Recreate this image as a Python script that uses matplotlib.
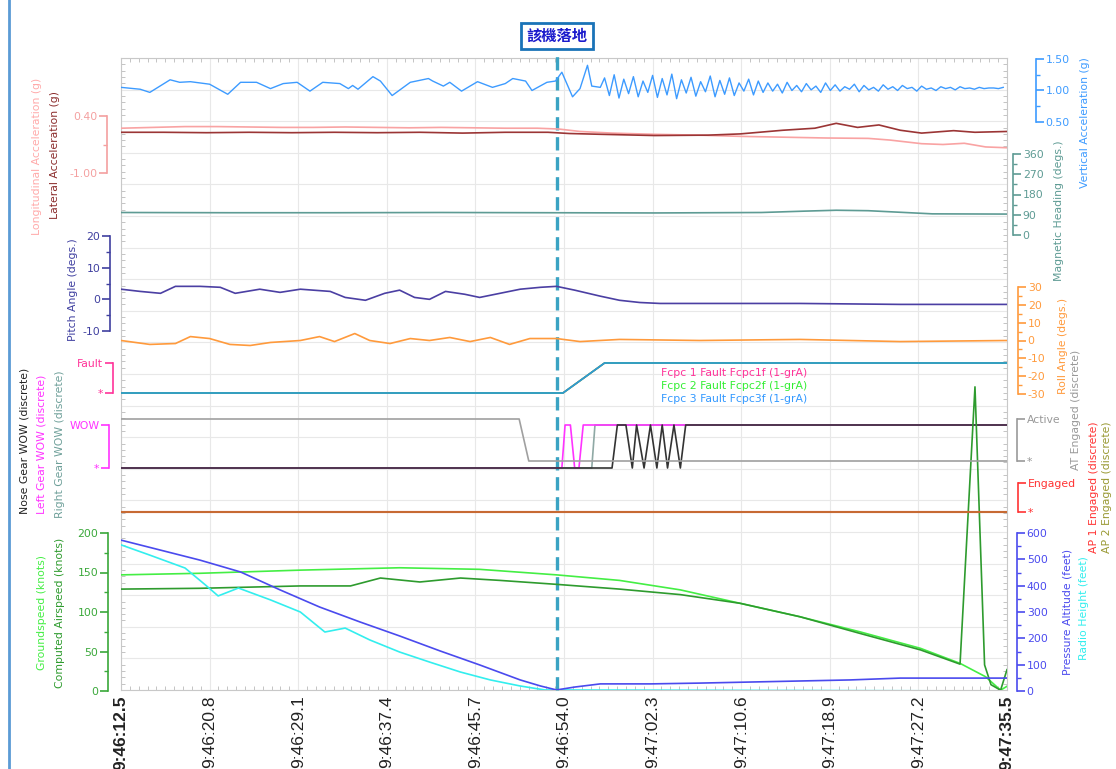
import numpy as np
import matplotlib.pyplot as plt
from matplotlib.ticker import MultipleLocator, FixedLocator

# ---- time axis (seconds after 9:46:12.5) ----
tick_pos = [0, 8.3, 16.6, 24.9, 33.2, 41.5, 49.8, 58.1, 66.4, 74.7, 83.0]
tick_labels = ['9:46:12.5', '9:46:20.8', '9:46:29.1', '9:46:37.4', '9:46:45.7', '9:46:54.0',
               '9:47:02.3', '9:47:10.6', '9:47:18.9', '9:47:27.2', '9:47:35.5']
t_land = 40.85

# vertical acceleration (g)
vacc_t = [0, 1.8, 2.7, 4.6, 5.5, 6.5, 8.3, 10.0, 11.2, 12.7, 14.0, 15.2, 16.5, 17.7, 18.9, 20.5,
          21.3, 21.7, 22.2, 23.6, 24.3, 25.4, 27.1, 28.8, 29.2, 30.2, 30.8, 31.9, 33.4, 34.8,
          36.0, 36.7, 37.9, 38.5, 39.9, 40.7, 41.3, 42.3, 43.0, 43.7, 44.1, 44.9]
vacc = [1.05, 1.02, 0.97, 1.17, 1.13, 1.14, 1.10, 0.94, 1.13, 1.13, 1.03, 1.11, 1.13, 0.99, 1.13,
        1.11, 1.03, 1.08, 1.02, 1.22, 1.15, 0.92, 1.13, 1.19, 1.15, 1.07, 1.13, 0.99, 1.14, 1.05,
        1.11, 1.19, 1.15, 1.00, 1.13, 1.15, 1.29, 0.90, 1.03, 1.40, 1.07, 1.05]
# rollout buffeting, sampled every 0.45 s from 45.3 s
vacc_roll = [1.20, 0.92, 1.25, 0.88, 1.18, 0.95, 1.22, 0.90, 1.15, 0.97, 1.24, 0.89, 1.19, 0.93,
             1.26, 0.87, 1.17, 0.96, 1.21, 0.91, 1.14, 0.98, 1.23, 0.90, 1.16, 0.94, 1.20, 0.92,
             1.12, 0.99, 1.18, 0.93, 1.15,
             0.97, 1.12, 0.99, 1.10, 0.96, 1.13, 1.00, 1.08, 0.98, 1.11, 1.01, 1.07, 0.97, 1.12,
             1.00, 1.09, 0.99, 1.06, 1.02, 1.10, 0.98, 1.08, 1.01, 1.05, 0.99, 1.09, 1.02, 1.06,
             1.00, 1.08, 1.03, 1.05, 0.99, 1.07, 1.02, 1.04, 1.00, 1.06, 1.03, 1.05, 1.01, 1.06,
             1.03, 1.04, 1.02, 1.05, 1.03, 1.04, 1.04, 1.03, 1.05]

# longitudinal / lateral acceleration (g)
lon_t = [0, 3, 6, 9, 12, 15, 18, 21, 24, 27, 30, 33, 36, 39, 41, 43, 46, 50, 54, 58, 62, 66, 70,
         72, 75, 77, 79, 81, 83]
lon_acc = [0.10, 0.12, 0.14, 0.14, 0.13, 0.12, 0.12, 0.13, 0.12, 0.11, 0.12, 0.11, 0.10, 0.10,
           0.08, 0.02, -0.02, -0.05, -0.07, -0.10, -0.12, -0.14, -0.15, -0.19, -0.28, -0.30,
           -0.27, -0.36, -0.38]
lat_t = [0, 4, 8, 12, 16, 20, 24, 28, 32, 36, 40, 42, 45, 50, 55, 58, 62, 65, 67, 69, 71, 73, 75,
         78, 80, 83]
lat_acc = [0.00, 0.00, -0.01, 0.00, -0.01, 0.00, -0.01, 0.00, -0.02, 0.00, 0.00, -0.03, -0.05,
           -0.08, -0.07, -0.04, 0.05, 0.10, 0.22, 0.12, 0.18, 0.05, -0.02, 0.04, 0.00, 0.02]

# magnetic heading (deg)
hdg_t = [0, 10, 20, 30, 40, 50, 55, 60, 64, 67, 70, 73, 76, 83]
hdg = [100, 99, 99, 100, 99, 98, 99, 100, 106, 110, 108, 101, 94, 93]

# pitch angle (deg)
pitch_t = [0, 1.8, 3.7, 5.1, 7.4, 9.3, 10.7, 13.0, 14.9, 16.8, 19.6, 21.0, 22.9, 24.7, 26.1,
           27.5, 28.9, 30.4, 32.2, 33.6, 35.5, 37.4, 39.3, 40.8, 42.5, 44.9, 46.7, 48.6, 50.5,
           54.2, 63.6, 73.0, 83.0]
pitch = [3.2, 2.5, 1.9, 4.1, 4.1, 3.8, 1.9, 3.2, 2.2, 3.2, 2.5, 0.6, -0.3, 1.9, 2.9, 0.6, 0.0,
         2.5, 1.6, 0.6, 1.9, 3.2, 3.8, 4.1, 2.9, 1.0, -0.3, -1.0, -1.3, -1.3, -1.3, -1.6, -1.6]

# roll angle (deg)
roll_t = [0, 2.7, 5.1, 6.5, 8.3, 10.2, 12.1, 14.0, 16.8, 18.6, 20.0, 21.9, 23.3, 25.2, 27.1,
          28.9, 30.8, 32.7, 34.6, 36.4, 38.3, 40.8, 43.0, 46.7, 54.2, 63.6, 73.0, 83.0]
roll = [0, -2.2, -1.7, 2.2, 1.1, -2.2, -2.8, -1.1, 0, 2.2, -0.6, 3.9, 0, -1.7, 1.1, 0, 1.7, -0.6,
        1.7, -2.2, 1.1, 1.1, -0.6, 0.6, 0, 0.6, -0.6, 0]

# discretes
fcpc_t = [0, 41.4, 45.3, 83]
fcpc1 = [0, 0, 1, 1]
fcpc2 = [0, 0, 1, 1]
fcpc3 = [0, 0, 1, 1]
nose_t = [0, 46.0, 46.5, 47.3, 47.9, 48.3, 49.0, 49.6, 50.2, 50.7, 51.2, 51.8, 52.4, 52.9, 83]
nose_wow = [0, 0, 1, 1, 0, 1, 0, 1, 0, 1, 0, 1, 0, 1, 1]
left_t = [0, 41.3, 41.6, 42.1, 42.5, 42.9, 43.3, 83]
left_wow = [0, 0, 1, 1, 0, 0, 1, 1]
right_t = [0, 44.1, 44.4, 83]
right_wow = [0, 0, 1, 1]
at_t = [0, 37.3, 38.2, 83]
at_eng = [1, 1, 0, 0]
ap_t = [0, 83]
ap1_eng = [0, 0]
ap2_eng = [0, 0]

# ground speed / computed airspeed (knots)
gs_t = [0, 7.4, 16.8, 26.1, 33.6, 40.8, 46.7, 52.4, 58.0, 63.6, 69.2, 74.9, 78.6, 81.0, 82.4, 83.0]
gs = [147, 149, 153, 156, 154, 147, 140, 128, 111, 94, 75, 54, 35, 18, 1, 6]
cas_t = [0, 7.4, 16.8, 21.5, 24.3, 28.0, 31.8, 35.5, 40.8, 46.7, 52.4, 58.0, 63.6, 69.2, 74.9,
         78.6, 80.0, 80.9, 81.5, 82.4, 83.0]
cas = [129, 130, 133, 133, 143, 138, 143, 140, 135, 129, 122, 111, 94, 73, 52, 34, 385, 33, 8, 1,
       27]

# pressure altitude / radio height (feet)
alt_t = [0, 3.7, 7.4, 11.2, 14.9, 18.6, 22.4, 26.1, 29.9, 33.6, 37.4, 39.3, 40.8, 42.5, 44.9,
         49.6, 54.2, 58.9, 63.6, 68.3, 73.0, 77.7, 83.0]
alt = [573, 535, 497, 452, 384, 319, 262, 209, 152, 99, 42, 19, 4, 15, 27, 27, 30, 34, 38, 42, 49,
       49, 49]
rh_t = [0, 2.7, 6.0, 7.9, 9.1, 11.0, 14.0, 16.8, 19.1, 21.0, 23.3, 26.1, 28.9, 31.8, 34.6, 37.4,
        39.7, 83.0]
rh = [555, 516, 467, 403, 361, 391, 346, 300, 224, 239, 194, 148, 110, 72, 42, 19, 4, 0]

# ---- layout ----
W, H = 1116, 769
fig = plt.figure(figsize=(W / 100, H / 100), dpi=100)
X0, X1, Y0, Y1 = 121, 1007, 58, 690


def rect(top, bottom):
    return [X0 / W, 1 - bottom / H, (X1 - X0) / W, (bottom - top) / H]


main = fig.add_axes(rect(Y0, Y1))
main.set_xlim(0, 83)
main.set_ylim(0, 1)
main.set_xticks(tick_pos)
main.set_xticklabels(tick_labels, rotation=90, fontsize=12.5, family='Liberation Sans',
                     color='#222222')
for i in (0, -1):
    main.get_xticklabels()[i].set_fontweight('bold')
main.xaxis.set_minor_locator(MultipleLocator(0.83))
main.yaxis.set_major_locator(MultipleLocator(0.05))
main.yaxis.set_minor_locator(MultipleLocator(0.01))
main.grid(True, which='major', color='#e8e8e8', lw=0.8)
main.tick_params(which='both', direction='in', color='#c4c4c4', top=True, right=True,
                 labelleft=False, pad=4)
main.tick_params(which='major', length=0)
main.tick_params(which='minor', length=3, width=0.7)
for s in main.spines.values():
    s.set_color('#c8c8c8')


def band(top, bottom, lo, hi, side, offset_px, color, major, labels, minor=None):
    ax = fig.add_axes(rect(top, bottom))
    ax.set_facecolor('none')
    ax.set_xlim(0, 83)
    ax.set_ylim(lo, hi)
    for s in ax.spines.values():
        s.set_visible(False)
    sp = ax.spines[side]
    sp.set_visible(True)
    sp.set_position(('outward', offset_px * 0.72))
    sp.set_color(color)
    sp.set_linewidth(1.2)
    ax.yaxis.set_ticks_position(side)
    ax.yaxis.set_major_locator(FixedLocator(major))
    ax.set_yticklabels(labels)
    if minor is not None:
        ax.yaxis.set_minor_locator(FixedLocator(minor))
    ax.tick_params(axis='y', which='major', colors=color, labelsize=7.8, length=6, width=1.2,
                   pad=1, direction='out')
    ax.tick_params(axis='y', which='minor', colors=color, length=3, width=1.0, direction='out')
    ax.tick_params(axis='x', which='both', bottom=False, labelbottom=False)
    return ax


def trace(ax, t, v, color, lw=1.0, **kw):
    ln, = ax.plot(t, v, color=color, lw=lw, **kw)
    ln.set_clip_path(main.patch)
    return ln


# left scales
ax_acc = band(116, 173, -1.0, 0.4, 'left', 14, '#f4a0a0', [0.4, -1.0], ['0.40', '-1.00'], [-0.3])
ax_pitch = band(236, 331, -10, 20, 'left', 11, '#3f3f9f', [20, 10, 0, -10],
                ['20', '10', '0', '-10'], [15, 5, -5])
ax_fault = band(363, 393, 0, 1, 'left', 8, '#ff3399', [1, 0], ['Fault', '*'])
ax_wow = band(425, 468, 0, 1, 'left', 12, '#ff33ff', [1, 0], ['WOW', '*'])
ax_spd = band(533, 691, 0, 200, 'left', 13, '#3aa83a', [200, 150, 100, 50, 0],
              ['200', '150', '100', '50', '0'], [175, 125, 75, 25])

# right scales
ax_vacc = band(59, 122, 0.5, 1.5, 'right', 29, '#3d9bff', [1.5, 1.0, 0.5],
               ['1.50', '1.00', '0.50'], [1.25, 0.75])
ax_hdg = band(154, 235, 0, 360, 'right', 6, '#5e9b94', [360, 270, 180, 90, 0],
              ['360', '270', '180', '90', '0'], [315, 225, 135, 45])
ax_roll = band(287, 394, -30, 30, 'right', 11, '#ff9a3c', [30, 20, 10, 0, -10, -20, -30],
               ['30', '20', '10', '0', '-10', '-20', '-30'], [25, 15, 5, -5, -15, -25])
ax_at = band(419, 461, 0, 1, 'right', 10, '#999999', [1, 0], ['Active', '*'])
ax_ap = band(483, 512, 0, 1, 'right', 11, '#ff3333', [1, 0], ['Engaged', '*'])
ax_alt = band(533, 691, 0, 600, 'right', 10, '#4a4aee', [600, 500, 400, 300, 200, 100, 0],
              ['600', '500', '400', '300', '200', '100', '0'], [550, 450, 350, 250, 150, 50])

# traces
roll_times = 45.3 + 0.45 * np.arange(len(vacc_roll))
trace(ax_vacc, np.concatenate([vacc_t, roll_times]), np.concatenate([vacc, vacc_roll]),
      '#3d9bff')
trace(ax_acc, lon_t, lon_acc, '#f9a3a3', lw=1.2)
trace(ax_acc, lat_t, lat_acc, '#9b3535', lw=1.2)
trace(ax_hdg, hdg_t, hdg, '#5e9b94', lw=1.2)
trace(ax_pitch, pitch_t, pitch, '#4b3fa3', lw=1.2)
trace(ax_roll, roll_t, roll, '#ff9a3c', lw=1.2)
trace(ax_fault, fcpc_t, fcpc1, '#ff3399', lw=1.2)
trace(ax_fault, fcpc_t, fcpc2, '#33ee33', lw=1.2)
trace(ax_fault, fcpc_t, fcpc3, '#2f95d8', lw=1.2)
trace(ax_at, at_t, at_eng, '#a0a0a0', lw=1.2)
trace(ax_wow, right_t, right_wow, '#8fa9a5', lw=1.2)
trace(ax_wow, left_t, left_wow, '#ff33ff', lw=1.2)
trace(ax_wow, nose_t, nose_wow, '#333333', lw=1.2)
trace(ax_ap, ap_t, ap1_eng, '#ff3333', lw=1.5)
trace(ax_ap, ap_t, ap2_eng, '#999933', lw=1.5, alpha=0.55)
trace(ax_spd, gs_t, gs, '#44ee44', lw=1.2)
trace(ax_spd, cas_t, cas, '#2e9b2e', lw=1.2)
trace(ax_alt, rh_t, rh, '#33eeee', lw=1.2)
trace(ax_alt, alt_t, alt, '#4a4aee', lw=1.2)

# Fcpc legend
for i, (txt, c) in enumerate([('Fcpc 1 Fault Fcpc1f (1-grA)', '#ff3399'),
                              ('Fcpc 2 Fault Fcpc2f (1-grA)', '#33ee33'),
                              ('Fcpc 3 Fault Fcpc3f (1-grA)', '#3399ff')]):
    fig.text(807 / W, 1 - (373 + 13 * i) / H, txt, color=c, fontsize=7.8, ha='right', va='center')

# axis titles
titles = [
    (37, 156, 'Longitudinal Acceleration (g)', '#ffaaaa'),
    (55, 155, 'Lateral Acceleration (g)', '#8b2c2c'),
    (73, 290, 'Pitch Angle (degs.)', '#3f3fa0'),
    (25, 441, 'Nose Gear WOW (discrete)', '#222222'),
    (42, 444, 'Left Gear WOW (discrete)', '#ff33ff'),
    (60, 444, 'Right Gear WOW (discrete)', '#6fa09a'),
    (42, 612, 'Groundspeed (knots)', '#44ee44'),
    (60, 613, 'Computed Airspeed (knots)', '#2e9b2e'),
    (1085, 123, 'Vertical Acceleration (g)', '#3d9bff'),
    (1059, 211, 'Magnetic Heading (degs.)', '#5e9b94'),
    (1063, 346, 'Roll Angle (degs.)', '#ff9a3c'),
    (1076, 410, 'AT Engaged (discrete)', '#999999'),
    (1094, 487, 'AP 1 Engaged (discrete)', '#ff3333'),
    (1107, 487, 'AP 2 Engaged (discrete)', '#999933'),
    (1068, 612, 'Pressure Altitude (feet)', '#4a4aee'),
    (1084, 608, 'Radio Height (feet)', '#33eeee'),
]
for x, y, txt, c in titles:
    fig.text(x / W, 1 - y / H, txt, color=c, fontsize=7.8, rotation=90, ha='center', va='center')

# touchdown marker
xt = main.get_xaxis_transform()
main.plot([t_land, t_land], [0, 1.016], transform=xt, color='#3aa3c3', lw=2.4,
          ls=(0, (4, 2)), clip_on=False, zorder=5)
main.text(t_land, 1.035, '該機落地', transform=xt, ha='center', va='center', fontsize=11,
          fontweight='bold', color='#1a1acc', family=['Noto Sans CJK TC', 'DejaVu Sans'],
          bbox=dict(boxstyle='square,pad=0.35', fc='white', ec='#1a73b8', lw=2), zorder=6)

# frame edge on the left
fig.add_artist(plt.Line2D([9 / W, 9 / W], [0, 1], color='#5b9bd5', lw=2))

fig.savefig('out.png', dpi=100)
